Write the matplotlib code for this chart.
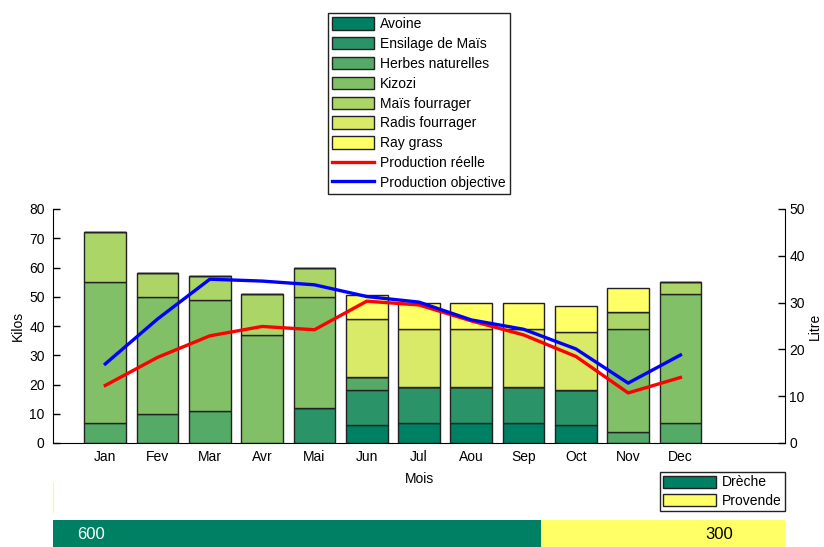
import matplotlib.pyplot as plt
import numpy as np
from matplotlib.patches import Patch
from matplotlib.lines import Line2D

plt.rcParams["font.family"] = ["Liberation Sans", "DejaVu Sans"]
plt.rcParams["font.size"] = 10

W, H = 824, 547

mois = ["Jan", "Fev", "Mar", "Avr", "Mai", "Jun", "Jul", "Aou", "Sep", "Oct", "Nov", "Dec"]

# kilos per month, stacked from bottom to top in this order
avoine = [0, 0, 0, 0, 0, 6, 7, 7, 7, 6, 0, 0]
ensilage_mais = [0, 0, 0, 0, 12, 12, 12, 12, 12, 12, 0, 0]
herbes_naturelles = [7, 10, 11, 0, 0, 4.5, 0, 0, 0, 0, 3.6, 7]
kizozi = [48, 40, 38, 37, 38, 0, 0, 0, 0, 0, 35.3, 44]
mais_fourrager = [17, 8, 8, 14, 10, 0, 0, 0, 0, 0, 6, 4]
radis_fourrager = [0, 0, 0, 0, 0, 20, 20, 20, 20, 20, 0, 0]
ray_grass = [0, 0, 0, 0, 0, 8, 9, 9, 9, 9, 8, 0]

# litres
production_reelle = [12.3, 18.3, 22.9, 24.9, 24.2, 30.3, 29.5, 26.1, 23.1, 18.5, 10.7, 14.0]
production_objective = [16.9, 26.5, 35.0, 34.6, 33.8, 31.3, 30.1, 26.3, 24.3, 20.1, 12.8, 18.8]

concentres = ["Drèche", "Provende"]
concentres_qte = [600, 300]

series = [
    ("Avoine", avoine, "#008062"),
    ("Ensilage de Maïs", ensilage_mais, "#2a9368"),
    ("Herbes naturelles", herbes_naturelles, "#55aa68"),
    ("Kizozi", kizozi, "#82c068"),
    ("Maïs fourrager", mais_fourrager, "#acd568"),
    ("Radis fourrager", radis_fourrager, "#d9e968"),
    ("Ray grass", ray_grass, "#ffff66"),
]


def fbox(x0, y0, x1, y1):
    return [x0 / W, 1 - y1 / H, (x1 - x0) / W, (y1 - y0) / H]


fig = plt.figure(figsize=(W / 100, H / 100), dpi=100)

ax = fig.add_axes(fbox(53, 209, 785, 443))
x = np.arange(1, len(mois) + 1)
bottom = np.zeros(len(mois))
for name, vals, col in series:
    vals = np.array(vals, dtype=float)
    ax.bar(x, vals, 0.8, bottom=bottom, color=col, edgecolor="#222222",
           linewidth=1.0, label=name)
    bottom += vals

ax.set_xlim(0, 14)
ax.set_ylim(0, 80)
ax.set_yticks(np.arange(0, 81, 10))
ax.set_xticks(x)
ax.set_xticklabels(mois)
ax.tick_params(axis="x", length=0, pad=5)
ax.tick_params(axis="y", direction="in", length=5, width=1, pad=6)
ax.spines["top"].set_visible(False)
ax.spines["right"].set_visible(False)
ax.set_ylabel("Kilos", labelpad=3)
ax.set_xlabel("Mois", labelpad=6)

ax2 = ax.twinx()
ax2.plot(x, production_reelle, color="#ff0000", lw=2.4, label="Production réelle")
ax2.plot(x, production_objective, color="#0000ff", lw=2.4, label="Production objective")
ax2.set_ylim(0, 50)
ax2.set_yticks(np.arange(0, 51, 10))
ax2.tick_params(axis="y", direction="in", length=5, width=1, pad=3)
for s in ("top", "left", "bottom"):
    ax2.spines[s].set_visible(False)
ax2.set_ylabel("Litre", labelpad=2)

handles = [Patch(facecolor=c, edgecolor="#222222", linewidth=1.0, label=n)
           for n, _, c in series]
handles += [Line2D([], [], color="#ff0000", lw=2.4, label="Production réelle"),
            Line2D([], [], color="#0000ff", lw=2.4, label="Production objective")]
leg = fig.legend(handles=handles, loc="upper left",
                 bbox_to_anchor=(328 / W, 1 - 13 / H), fancybox=False,
                 edgecolor="#222222", framealpha=1, borderpad=0.3,
                 handlelength=3.0, handleheight=1.0, handletextpad=0.45,
                 labelspacing=0.42, borderaxespad=0)
leg.get_frame().set_linewidth(1.0)

# concentrate split bar
axb = fig.add_axes(fbox(53, 520, 785, 547))
left = 0
cols_c = ["#008062", "#ffff66"]
for q, c in zip(concentres_qte, cols_c):
    axb.barh(0, q, 1.0, left=left, color=c, edgecolor="none")
    left += q
axb.set_xlim(0, sum(concentres_qte))
axb.set_ylim(-0.5, 0.5)
axb.axis("off")
axb.text(30, -0.05, str(concentres_qte[0]), color="white", va="center", ha="left",
         fontsize=12)
axb.text(sum(concentres_qte) - 64, -0.05, str(concentres_qte[1]), color="black",
         va="center", ha="right", fontsize=12)

fig.add_artist(Line2D([52.5 / W, 52.5 / W], [1 - 482 / H, 1 - 512 / H],
                      color="#ffff66", lw=0.8))

leg2_handles = [Patch(facecolor=c, edgecolor="#222222", linewidth=1.0, label=n)
                for n, c in zip(concentres, cols_c)]
leg2 = fig.legend(handles=leg2_handles, loc="upper left",
                  bbox_to_anchor=(660 / W, 1 - 472 / H), fancybox=False,
                  edgecolor="#222222", framealpha=1, borderpad=0.25,
                  handlelength=3.8, handleheight=1.0, handletextpad=0.4,
                  labelspacing=0.3, borderaxespad=0)
leg2.get_frame().set_linewidth(1.0)

fig.savefig("out.png", dpi=100)
